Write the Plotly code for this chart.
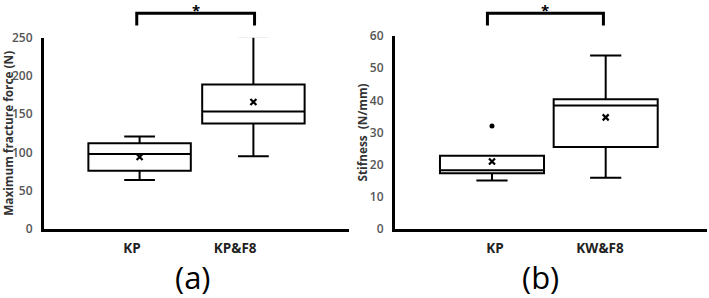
import plotly.graph_objects as go

# ---- data ----
groups_a = ["KP", "KP&F8"]
q1_a = [76, 138]
med_a = [98, 153.5]
q3_a = [112, 189]
low_a = [64, 95]
up_a = [121, 252]
mean_a = [94, 166]

groups_b = ["KP", "KW&F8"]
q1_b = [17.3, 25.5]
med_b = [18.3, 38.4]
q3_b = [22.8, 40.3]
low_b = [15.1, 15.9]
up_b = [22.8, 53.9]
mean_b = [21.0, 34.7]
outlier_b_x = [0]
outlier_b_y = [32]

yticks_a = [0, 50, 100, 150, 200, 250]
yticks_b = [0, 10, 20, 30, 40, 50, 60]

FONT = "Open Sans"
fig = go.Figure()

pos = [0, 1]

def add_panel(xa, ya, q1, med, q3, low, up, mean, width):
    fig.add_trace(go.Box(
        x=pos, q1=q1, median=med, q3=q3, lowerfence=low, upperfence=up,
        xaxis=xa, yaxis=ya, width=width, whiskerwidth=0.3,
        fillcolor="white", line=dict(color="black", width=2),
        boxpoints=False, showlegend=False, hoverinfo="skip"))
    fig.add_trace(go.Scatter(
        x=pos, y=mean, mode="markers", xaxis=xa, yaxis=ya,
        marker=dict(symbol="x-thin", size=6, line=dict(color="black", width=2.2), color="black"),
        showlegend=False, hoverinfo="skip"))

add_panel("x", "y", q1_a, med_a, q3_a, low_a, up_a, mean_a, 0.9)
add_panel("x2", "y2", q1_b, med_b, q3_b, low_b, up_b, mean_b, 0.915)
fig.add_trace(go.Scatter(x=outlier_b_x, y=outlier_b_y, mode="markers", xaxis="x2", yaxis="y2",
                         marker=dict(symbol="circle", size=5, color="black"),
                         showlegend=False, hoverinfo="skip"))

W, H = 709, 298
axis_common = dict(showgrid=False, zeroline=False, showline=True, linecolor="black",
                   linewidth=3, ticks="", fixedrange=True, automargin=False)

fig.update_layout(
    width=W, height=H, margin=dict(l=0, r=0, t=0, b=0, pad=0, autoexpand=False),
    plot_bgcolor="white", paper_bgcolor="white",
    font=dict(family=FONT, color="#222"),
    xaxis=dict(**axis_common, domain=[44 / W, 349 / W], range=[-0.84, 1.84],
               tickmode="array", tickvals=[-0.066, 0.84], ticktext=groups_a,
               tickfont=dict(size=13.5, color="#222", family=FONT, weight="bold"),
               ticklabelstandoff=5),
    yaxis=dict(**axis_common, domain=[(H - 229) / H, (H - 37.7) / H], range=[0, 250],
               tickmode="array", tickvals=yticks_a,
               tickfont=dict(size=12, color="#555", family=FONT, weight=600),
               ticklabelstandoff=6,
               title=dict(text="Maximum fracture force (N)", standoff=0,
                          font=dict(size=11.8, color="#333", family=FONT, weight="bold"))),
    xaxis2=dict(**axis_common, domain=[395 / W, 707 / W], range=[-0.853, 1.891],
                tickmode="array", tickvals=[0.026, 0.95], ticktext=groups_b,
                tickfont=dict(size=13.5, color="#222", family=FONT, weight="bold"),
                ticklabelstandoff=5),
    yaxis2=dict(**axis_common, domain=[(H - 229) / H, (H - 36) / H], range=[0, 60],
                tickmode="array", tickvals=yticks_b, anchor="x2",
                tickfont=dict(size=12, color="#555", family=FONT, weight=600),
                ticklabelstandoff=6,
                title=dict(text="Stifness  (N/mm)", standoff=0,
                           font=dict(size=11.8, color="#333", family=FONT, weight="bold"))),
)
fig.update_layout(xaxis2_anchor="y2")

# significance brackets
y_top = (H - 13.3) / H
y_bot = (H - 25.5) / H
for xr, x0, x1 in [("x", -0.025, 1.01), ("x2", -0.04, 0.98)]:
    fig.add_shape(type="path", xref=xr, yref="paper",
                  path=f"M {x0} {y_bot} L {x0} {y_top} L {x1} {y_top} L {x1} {y_bot}",
                  line=dict(color="black", width=3))
    fig.add_annotation(x=(x0 + x1) / 2, y=(H - 10.5) / H, xref=xr, yref="paper",
                       yanchor="middle", xanchor="center",
                       text="<b>*</b>", showarrow=False, font=dict(size=15, color="black", family=FONT))

# panel labels
fig.add_annotation(x=193 / W, y=(H - 277) / H, xref="paper", yref="paper", text="(a)",
                   yanchor="middle", xanchor="center",
                   showarrow=False, font=dict(size=31, color="black", family=FONT))
fig.add_annotation(x=540 / W, y=(H - 277) / H, xref="paper", yref="paper", text="(b)",
                   yanchor="middle", xanchor="center",
                   showarrow=False, font=dict(size=31, color="black", family=FONT))

fig.write_html("out.html", config={"displayModeBar": False},
               post_script="document.body.style.margin='0';document.body.style.padding='0';")
